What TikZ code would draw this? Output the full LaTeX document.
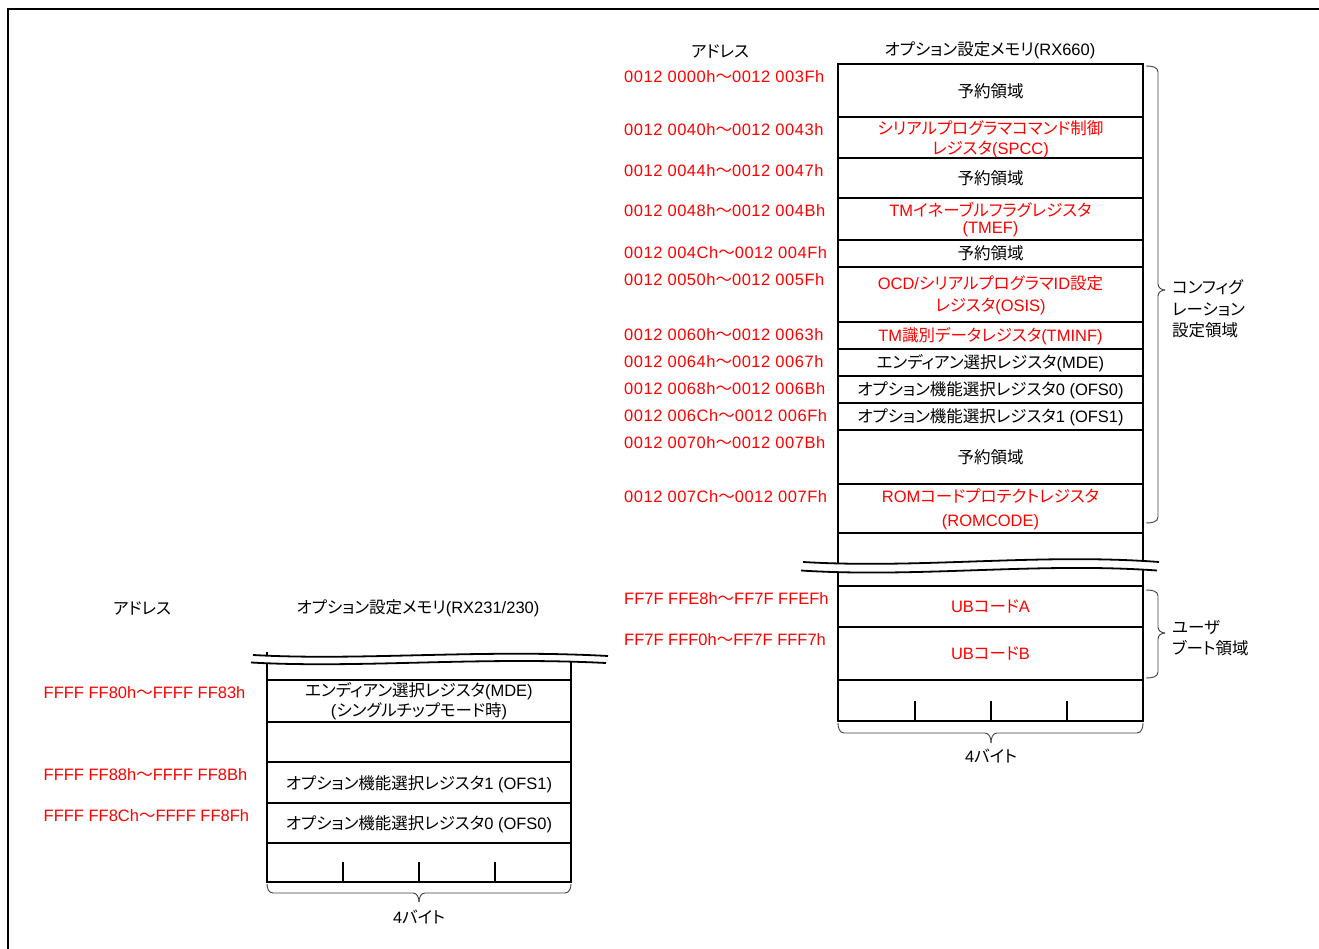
\documentclass[tikz,border=0pt]{standalone}
\usepackage{fontspec}
\setmainfont{Liberation Sans}
\newfontfamily\jp[RawFeature={+palt}]{Noto Sans CJK JP}
\newcommand\J[1]{{\jp #1}}
\newcommand\T{\J{～}}
\newcommand\dfont{\fontsize{16.5}{20}\selectfont}
\newcommand\wfont{\fontsize{16.5}{20}\selectfont\addfontfeature{LetterSpace=3.2}}
\tikzset{
  box/.style={line width=1.8pt, line cap=rect},
  wave/.style={line width=1.8pt},
  lab/.style={font=\dfont, inner sep=0pt, anchor=base},
  addr/.style={lab, anchor=base west, text=red},
  waddr/.style={addr, font=\wfont},
  rtxt/.style={lab, text=red},
  side/.style={lab, anchor=base west},
  brc/.style={line width=0.9pt, black!75},
}
\begin{document}
\begin{tikzpicture}[x=1pt,y=-1pt]
\useasboundingbox (0,0) rectangle (1319,949);
\draw[line width=2.5pt] (8,949) -- (8,9) -- (1319,9);

% ---------- right memory map (RX660) ----------
\node[lab] (rhA) at (720,57.7) {\J{アドレス}};
\node[lab] (rhM) at (990,56) {\J{オプション設定メモリ}(RX660)};

\draw[box] (838,64) rectangle (1143,721);
\foreach \y in {117,158,198,240,267,322,349,376,403,430,484,533,586,627,680}
  \draw[box] (838,\y) -- (1143,\y);
\foreach \x in {915,991,1067}
  \draw[box] (\x,702) -- (\x,721);
\fill[white] (803,562) .. controls (920,569) and (1040,553) .. (1159,562)
  -- (1157,570.5) .. controls (1038,562) and (918,578) .. (801,570.5) -- cycle;
\draw[wave] (803,562) .. controls (920,569) and (1040,553) .. (1159,562);
\draw[wave] (801,570.5) .. controls (918,578) and (1038,562) .. (1157,570.5);

\node[waddr] (ra1) at (624,82.5) {0012 0000h\T0012 003Fh};
\node[waddr] (ra2) at (624,135.3) {0012 0040h\T0012 0043h};
\node[waddr] (ra3) at (624,176.3) {0012 0044h\T0012 0047h};
\node[waddr] (ra4) at (624,216.3) {0012 0048h\T0012 004Bh};
\node[waddr] (ra5) at (624,258.3) {0012 004Ch\T0012 004Fh};
\node[waddr] (ra6) at (624,285.3) {0012 0050h\T0012 005Fh};
\node[waddr] (ra7) at (624,340.3) {0012 0060h\T0012 0063h};
\node[waddr] (ra8) at (624,367.3) {0012 0064h\T0012 0067h};
\node[waddr] (ra9) at (624,394.3) {0012 0068h\T0012 006Bh};
\node[waddr] (ra10) at (624,421.3) {0012 006Ch\T0012 006Fh};
\node[waddr] (ra11) at (624,448.3) {0012 0070h\T0012 007Bh};
\node[waddr] (ra12) at (624,502.3) {0012 007Ch\T0012 007Fh};
\node[addr] (ra13) at (624,604.3) {FF7F FFE8h\T FF7F FFEFh};
\node[addr] (ra14) at (624,645.3) {FF7F FFF0h\T FF7F FFF7h};

\node[lab] (rc1) at (990.5,97.2) {\J{予約領域}};
\node[rtxt] (rc2a) at (990.5,134.5) {\J{シリアルプログラマコマンド制御}};
\node[rtxt] (rc2b) at (990.5,155) {\J{レジスタ}(SPCC)};
\node[lab] (rc3) at (990.5,184.2) {\J{予約領域}};
\node[rtxt] (rc4a) at (990.5,216.2) {TM\J{イネーブルフラグレジスタ}};
\node[rtxt] (rc4b) at (990.5,234) {(TMEF)};
\node[lab] (rc5) at (990.5,259.7) {\J{予約領域}};
\node[rtxt] (rc6a) at (990.5,289.2) {OCD/\J{シリアルプログラマ}ID\J{設定}};
\node[rtxt] (rc6b) at (990.5,311.2) {\J{レジスタ}(OSIS)};
\node[rtxt] (rc7) at (990.5,341.7) {TM\J{識別データレジスタ}(TMINF)};
\node[lab] (rc8) at (990.5,368.7) {\J{エンディアン選択レジスタ}(MDE)};
\node[lab] (rc9) at (990.5,395.7) {\J{オプション機能選択レジスタ}0 (OFS0)};
\node[lab] (rc10) at (990.5,422.7) {\J{オプション機能選択レジスタ}1 (OFS1)};
\node[lab] (rc11) at (990.5,463.2) {\J{予約領域}};
\node[rtxt] (rc12a) at (990.5,502) {ROM\J{コードプロテクトレジスタ}};
\node[rtxt] (rc12b) at (990.5,526.2) {(ROMCODE)};
\node[rtxt] (rc13) at (990.5,612.7) {UB\J{コード}A};
\node[rtxt] (rc14) at (990.5,659.7) {UB\J{コード}B};

% braces right
\draw[brc] (1146,66) to[out=0,in=90] (1158,72) -- (1158,284) to[out=-90,in=180] (1165,290);
\draw[brc] (1165,290) to[out=180,in=90] (1158,296) -- (1158,517) to[out=-90,in=0] (1146,523);
\draw[brc] (1146,590) to[out=0,in=90] (1158,596) -- (1158,627) to[out=-90,in=180] (1165,633);
\draw[brc] (1165,633) to[out=180,in=90] (1158,639) -- (1158,672) to[out=-90,in=0] (1146,678);
\node[side] (cfg1) at (1172,294) {\J{コンフィグ}};
\node[side] (cfg2) at (1172,316) {\J{レーション}};
\node[side] (cfg3) at (1172,337) {\J{設定領域}};
\node[side] (ub1) at (1172,633) {\J{ユーザ}};
\node[side] (ub2) at (1172,654) {\J{ブート領域}};

\draw[brc] (838,723) to[out=-90,in=180] (844,733) -- (985,733) to[out=0,in=90] (991,743);
\draw[brc] (1143,723) to[out=-90,in=0] (1137,733) -- (997,733) to[out=180,in=90] (991,743);
\node[lab] (rb) at (991,762) {4\J{バイト}};

% ---------- left memory map (RX231/230) ----------
\node[lab] (lhA) at (142,614) {\J{アドレス}};
\node[lab] (lhM) at (418,613) {\J{オプション設定メモリ}(RX231/230)};

\draw[box] (267,653) -- (267,882) -- (571,882) -- (571,657);
\foreach \y in {680,722,762,803,843}
  \draw[box] (267,\y) -- (571,\y);
\foreach \x in {343,419,495}
  \draw[box] (\x,863) -- (\x,882);
\fill[white] (253,655) .. controls (360,661) and (480,649) .. (608,656)
  -- (606,663) .. controls (478,656.5) and (358,668.5) .. (251,662.5) -- cycle;
\draw[wave] (253,655) .. controls (360,661) and (480,649) .. (608,656);
\draw[wave] (251,662.5) .. controls (358,668.5) and (478,656.5) .. (606,663);

\node[addr] (la1) at (43.5,698.5) {FFFF FF80h\T FFFF FF83h};
\node[addr] (la2) at (43.5,780.5) {FFFF FF88h\T FFFF FF8Bh};
\node[addr] (la3) at (43.5,821.5) {FFFF FF8Ch\T FFFF FF8Fh};

\node[lab] (lc1a) at (419,696.2) {\J{エンディアン選択レジスタ}(MDE)};
\node[lab] (lc1b) at (419,716.2) {(\J{シングルチップモード時})};
\node[lab] (lc2) at (419,789.2) {\J{オプション機能選択レジスタ}1 (OFS1)};
\node[lab] (lc3) at (419,829.2) {\J{オプション機能選択レジスタ}0 (OFS0)};

\draw[brc] (267,884) to[out=-90,in=180] (273,893) -- (413,893) to[out=0,in=90] (419,902);
\draw[brc] (571,884) to[out=-90,in=0] (565,893) -- (425,893) to[out=180,in=90] (419,902);
\node[lab] (lb) at (419,923) {4\J{バイト}};
\end{tikzpicture}
\end{document}
